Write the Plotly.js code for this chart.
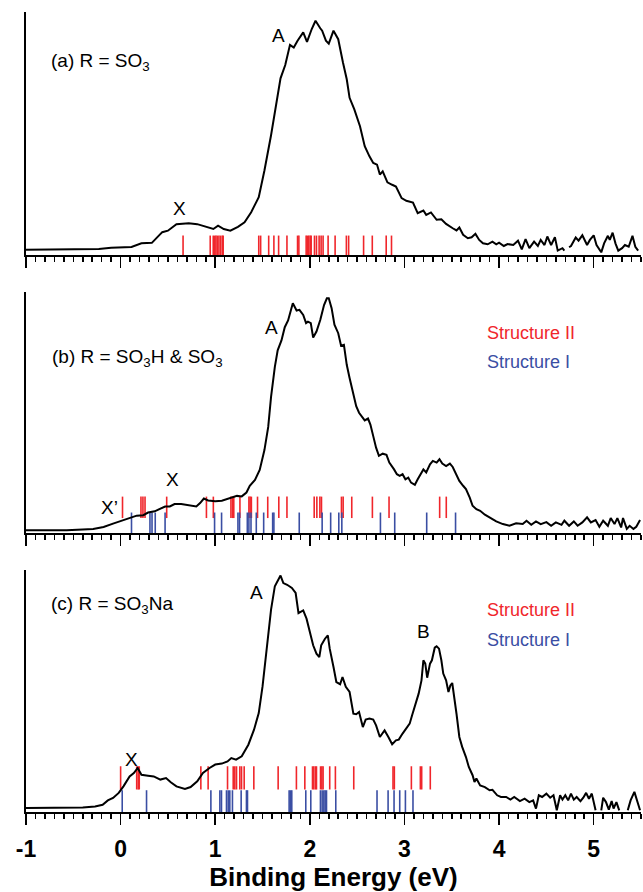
<!DOCTYPE html>
<html>
<head>
<meta charset="utf-8">
<script src="https://cdn.plot.ly/plotly-3.0.1.min.js"></script>
<style>html,body{margin:0;padding:0;background:#fff;}#chart{width:643px;height:892px;}</style>
</head>
<body>
<div id="chart"></div>
<script>
// ---------------- Data ----------------
// Panel (a) R = SO3 : photoelectron spectrum
const energyA = [-1.0,-0.62,-0.23,-0.10,0.115,0.22,0.33,0.44,0.50,0.59,
  0.72,0.81,0.89,0.98,1.03,1.09,1.16,1.24,1.31,1.38,
  1.46,1.52,1.59,1.64,1.69,1.74,1.79,1.83,1.87,1.93,
  1.97,2.02,2.06,2.11,2.13,2.17,2.20,2.25,2.30,2.35,
  2.39,2.42,2.47,2.53,2.58,2.63,2.67,2.71,2.74,2.77,
  2.82,2.87,2.91,2.97,3.02,3.09,3.14,3.20,3.23,3.28,
  3.34,3.39,3.44,3.51,3.55,3.58,3.62,3.67,3.71,3.75,
  3.79,3.83,3.88,3.93,3.97,4.00,4.05,4.09,4.15,4.20,
  4.24,4.28,4.32,4.37,4.41,4.44,4.48,4.51,4.55,4.59,
  4.62,4.67,4.69,4.715,4.74,4.76,4.81,4.84,4.88,4.93,
  4.96,5.00,5.03,5.08,5.11,5.15,5.17,5.20,5.23,5.26,
  5.30,5.33,5.37,5.41,5.44,5.47];
const intensityA = [2.2,2.2,2.5,3.0,3.3,4.8,5.0,9.4,10,12.7,
  13.1,12.7,11.8,10.7,12.1,10.7,10,11.6,13.5,17.6,
  23.8,34.8,49.3,60.3,72.7,78.2,86.5,85.4,88.2,91.6,
  87.7,93,96.4,93.3,92.3,88.2,87,92.3,88.8,79.2,
  72.3,64.7,59.9,53,44.8,40.6,37.9,37.2,33.1,34.4,
  29.9,28.9,28.2,23.4,22.3,21.6,17.2,18.3,16.5,17.5,
  14.5,14.7,12.8,11,10.1,11.3,8.3,6.9,7.3,8.7,
  6.2,4.8,4.4,5.5,4.4,5.1,3.7,4.5,4.1,5.9,
  2.3,6.5,2.8,5.5,3.7,6.2,4.1,7.6,4.1,7.3,
  1.8,2.8,1.8,null,3.2,3.7,7.2,5.9,8.1,4.1,
  6.2,8.1,4.1,1.1,4.8,7.9,6.2,9.2,4.8,1.8,
  2.8,4.1,3.4,7.9,3.4,1.8];

// Panel (b) R = SO3H & SO3
const energyB = [-1.0,-0.57,-0.29,-0.18,-0.08,-0.01,0.08,0.17,0.24,0.29,
  0.36,0.415,0.47,0.52,0.57,0.64,0.73,0.80,0.84,0.88,
  0.925,1.0,1.07,1.15,1.23,1.28,1.33,1.365,1.42,1.47,
  1.52,1.56,1.59,1.63,1.66,1.70,1.735,1.77,1.82,1.86,
  1.89,1.93,1.96,1.98,2.01,2.035,2.07,2.11,2.15,2.18,
  2.2,2.23,2.26,2.30,2.33,2.36,2.39,2.42,2.46,2.49,
  2.52,2.545,2.58,2.615,2.64,2.67,2.70,2.73,2.77,2.81,
  2.84,2.89,2.92,2.95,2.98,3.01,3.04,3.07,3.11,3.14,
  3.18,3.20,3.23,3.27,3.30,3.34,3.37,3.40,3.44,3.48,
  3.51,3.55,3.58,3.62,3.65,3.69,3.72,3.76,3.80,3.85,
  3.90,3.97,4.04,4.11,4.18,4.25,4.29,4.34,4.39,4.44,
  4.50,4.55,4.60,4.66,4.69,4.74,4.79,4.83,4.88,4.93,
  4.97,5.02,5.06,5.10,5.15,5.18,5.22,5.25,5.29,5.31,
  5.35,5.38,5.42,5.45,5.49];
const intensityB = [1.1,1.1,1.65,2.5,3.9,4.8,6.1,7.2,7.4,8.5,
  9.0,9.9,11,11,12,12,11.4,11,12.4,14.3,
  13.5,13.2,13.4,14.3,15.4,15.2,16.8,19.6,22,26.2,
  34.4,44,56.5,68.9,75.8,79.9,85.4,88.2,95.3,92.3,
  92.6,90.5,87.1,87.7,87.1,81.1,83.6,88.4,94.6,97.4,
  97.4,93.3,86.4,82.9,77.7,78.1,69.8,64.3,57.4,52.6,
  49.9,48.5,46.7,47.5,45,40.2,35.4,32,32.9,32.4,
  29.2,26.4,24.4,23.7,24.4,22.3,23,20.9,20,22.3,
  25.1,26.4,25.1,28.5,29.9,29.2,30.6,28.8,27.8,28.8,
  27.4,23.7,21.6,19.6,18.2,14.7,11.3,9.9,9.2,7.6,
  6.5,4.8,3.7,3.0,4.0,3.7,5.1,3.4,4.8,3.7,
  4.5,3.0,4.4,3.4,5.1,3.0,4.8,3.0,4.4,6.5,
  4.4,5.4,2.6,5.1,3.0,6.2,3.7,6.2,2.3,6.2,
  1.7,3.0,1.7,2.6,5.4];

// Panel (c) R = SO3Na
const energyC = [-1.0,-0.62,-0.40,-0.27,-0.19,-0.135,-0.08,-0.02,0.03,0.095,
  0.14,0.18,0.22,0.29,0.35,0.42,0.48,0.53,0.59,0.68,
  0.74,0.81,0.87,0.94,1.0,1.07,1.13,1.17,1.22,1.28,
  1.35,1.41,1.46,1.50,1.54,1.59,1.63,1.66,1.69,1.72,
  1.76,1.81,1.85,1.88,1.93,1.965,2.0,2.035,2.07,2.10,
  2.12,2.16,2.19,2.21,2.25,2.28,2.32,2.345,2.38,2.42,
  2.46,2.49,2.52,2.56,2.59,2.63,2.67,2.70,2.74,2.77,
  2.79,2.83,2.87,2.91,2.94,2.98,3.02,3.055,3.08,3.12,
  3.15,3.18,3.20,3.22,3.24,3.27,3.29,3.32,3.34,3.365,
  3.39,3.41,3.44,3.465,3.485,3.505,3.52,3.55,3.58,3.61,
  3.65,3.68,3.72,3.74,3.76,3.80,3.85,3.90,3.93,3.98,
  4.02,4.075,4.12,4.16,4.22,4.27,4.32,4.36,4.39,4.42,
  4.455,4.50,4.54,4.575,4.61,4.645,4.67,4.70,4.73,4.76,
  4.79,4.82,4.86,4.89,4.92,4.95,4.98,5.02,5.05,5.08,
  5.10,5.13,5.16,5.19,5.21,5.24,5.27,5.31,5.36,5.39,
  5.43,5.46,5.49];
const intensityC = [1.65,1.65,1.9,2.3,3.0,4.8,5.8,7.9,10.6,14.7,
  16.1,18.2,15.4,15,14.7,13.4,14,12.3,10.6,9.5,
  10.3,12.7,16.1,18.2,19.6,20,20.9,22.3,21.6,23,
  27.8,34,40.9,51.9,67.1,83.6,93.3,95.3,97.7,94.6,
  93.9,92.6,90.5,82.2,83.3,79.9,74.4,68.9,65.4,64,
  68.9,71.6,73,67.5,59.9,53.7,52.8,55.8,51.7,49.6,
  40.6,40.4,41.3,35.1,38.2,38.6,38.2,35.8,31,32.6,
  33.7,31,28,29.6,29.9,32.4,34.4,36.5,39.9,44.8,
  48.9,54.4,62.7,61.3,55.5,61.3,62.7,67.9,68.5,67.5,
  62.7,57.2,54.4,49.6,52.3,53.3,49.6,40.6,31,26.9,
  22.7,18.6,15.2,12.4,13.8,11,10.3,9,9.2,6.9,
  6.2,6.2,5.1,6.2,4.5,5.5,4.1,4.8,1.4,6.9,
  6.2,7.6,5.9,6.9,0.7,6.9,5.1,6.9,4.8,7.6,
  5.1,6.2,4.5,5.9,7.9,5.5,7.6,0.7,null,0.7,
  5.9,4.1,1.0,4.5,1.4,4.1,0.7,null,0.7,4.8,
  8.3,4.8,0.7];

// Calculated binding energies (stick spectra)
const sticksA_II = [0.66,0.947,0.979,0.993,1.007,1.021,1.039,1.056,1.074,1.084,
  1.46,1.48,1.565,1.62,1.67,1.758,1.87,1.884,1.961,1.975,1.989,2.004,2.014,2.049,
  2.07,2.098,2.119,2.14,2.193,2.267,2.386,2.41,2.568,2.66,2.807,2.863];
const sticksB_II = [0.02,0.215,0.236,0.258,0.487,0.907,0.98,1.166,1.183,1.196,1.261,
  1.356,1.369,1.382,1.447,1.555,1.672,1.758,2.046,2.074,2.106,2.123,2.334,2.352,
  2.443,2.661,2.837,3.372,3.442];
const sticksB_I = [0.115,0.31,0.332,0.366,0.47,0.993,1.067,1.24,1.257,1.339,1.356,
  1.378,1.434,1.512,1.607,1.62,1.888,2.13,2.22,2.306,2.338,2.746,2.897,3.235,3.54];
const sticksC_II = [0.0,0.17,0.186,0.197,0.848,0.925,1.13,1.19,1.207,1.225,1.26,1.278,
  1.306,1.408,1.665,1.858,1.947,2.028,2.042,2.06,2.07,2.113,2.127,2.14,2.21,2.27,
  2.464,2.879,2.893,3.073,3.168,3.182,3.273];
const sticksC_I = [0.017,0.274,0.954,1.049,1.066,1.119,1.137,1.154,1.182,1.274,1.33,
  1.341,1.781,1.795,1.809,1.957,2.01,2.112,2.13,2.148,2.162,2.176,2.274,2.71,2.827,
  2.89,2.95,3.01,3.09];

const tickValues = [-1, 0, 1, 2, 3, 4, 5];
const tickLabels = ['-1', '0', '1', '2', '3', '4', '5'];

// ---------------- Styling ----------------
const FONT = 'Liberation Sans, Arial, Helvetica, sans-serif';
const RED = '#f0262b';
const BLUE = '#3a4ea3';

function sticks(energies, lo, hi, color, xa, ya) {
  const xs = [], ys = [];
  energies.forEach(e => { xs.push(e, e, null); ys.push(lo, hi, null); });
  return {x: xs, y: ys, xaxis: xa, yaxis: ya, mode: 'lines', type: 'scatter',
    line: {color: color, width: 1.6}, hoverinfo: 'skip', showlegend: false, connectgaps: false};
}
function spectrum(xs, ys, xa, ya) {
  return {x: xs, y: ys, xaxis: xa, yaxis: ya, mode: 'lines', type: 'scatter',
    line: {color: '#000', width: 2}, connectgaps: false, showlegend: false, hoverinfo: 'skip'};
}

const traces = [
  sticks(sticksA_II, 0, 8, RED, 'x', 'y'),
  spectrum(energyA, intensityA, 'x', 'y'),
  sticks(sticksB_II, 6.2, 15.1, RED, 'x2', 'y2'),
  sticks(sticksB_I, 0, 8.5, BLUE, 'x2', 'y2'),
  spectrum(energyB, intensityB, 'x2', 'y2'),
  sticks(sticksC_II, 9.3, 18.9, RED, 'x3', 'y3'),
  sticks(sticksC_I, 0, 9, BLUE, 'x3', 'y3'),
  spectrum(energyC, intensityC, 'x3', 'y3')
];

const XRANGE = [-1, 5.5];
function mainX(anchor, showLabels) {
  const ax = {
    anchor: anchor, domain: [0, 1], range: XRANGE, autorange: false,
    showline: true, linecolor: '#000', linewidth: 2,
    ticks: 'outside', ticklen: 11, tickwidth: 1.6, tickcolor: '#000',
    tickmode: 'array', tickvals: tickValues, ticktext: tickLabels,
    showticklabels: showLabels, showgrid: false, zeroline: false,
    tickfont: {family: FONT, size: 23, color: '#000', weight: 'bold'},
    ticklabelstandoff: 4,
    minor: {tickmode: 'linear', tick0: -1, dtick: 0.1, ticks: 'outside', ticklen: 5,
            tickwidth: 1.6, tickcolor: '#000', showgrid: false}
  };
  return ax;
}
function halfX(over, anchor) {
  return {overlaying: over, anchor: anchor, side: 'bottom', range: XRANGE, autorange: false,
    tickmode: 'linear', tick0: -0.5, dtick: 1, ticks: 'outside', ticklen: 8, tickwidth: 1.6,
    tickcolor: '#000', showticklabels: false, showline: false, showgrid: false, zeroline: false};
}
function yax(domain, anchor) {
  return {domain: domain, anchor: anchor, range: [0, 100], autorange: false,
    showline: true, linecolor: '#000', linewidth: 2, ticks: '', showticklabels: false,
    showgrid: false, zeroline: false};
}

const xa3 = mainX('y3', true);
xa3.title = {text: 'Binding Energy (eV)', font: {family: FONT, size: 26, color: '#000', weight: 'bold'}, standoff: 2};

const labFont = {family: FONT, size: 19, color: '#000'};
function ann(text, x, y, xref, yref, opts) {
  return Object.assign({text: text, x: x, y: y, xref: xref, yref: yref, showarrow: false,
    xanchor: 'center', yanchor: 'middle', font: labFont}, opts || {});
}
const annotations = [
  ann('(a) R = SO<sub>3</sub>', -0.757, 79.3, 'x', 'y', {xanchor: 'left'}),
  ann('A', 1.672, 90.5, 'x', 'y'),
  ann('X', 0.626, 19, 'x', 'y'),
  ann('(b) R = SO<sub>3</sub>H &amp; SO<sub>3</sub>', -0.747, 72.7, 'x2', 'y2', {xanchor: 'left'}),
  ann('A', 1.593, 85.1, 'x2', 'y2'),
  ann('X', 0.552, 22.3, 'x2', 'y2'),
  ann('X\u2019', -0.113, 10.7, 'x2', 'y2'),
  ann('Structure II', 3.847, 83, 'x2', 'y2', {xanchor: 'left', font: {family: FONT, size: 18, color: RED}}),
  ann('Structure I', 3.847, 71, 'x2', 'y2', {xanchor: 'left', font: {family: FONT, size: 18, color: BLUE}}),
  ann('(c) R = SO<sub>3</sub>Na', -0.757, 85.5, 'x3', 'y3', {xanchor: 'left'}),
  ann('A', 1.44, 90.9, 'x3', 'y3'),
  ann('X', 0.119, 21.9, 'x3', 'y3'),
  ann('B', 3.203, 74.4, 'x3', 'y3'),
  ann('Structure II', 3.847, 83.5, 'x3', 'y3', {xanchor: 'left', font: {family: FONT, size: 18, color: RED}}),
  ann('Structure I', 3.847, 71, 'x3', 'y3', {xanchor: 'left', font: {family: FONT, size: 18, color: BLUE}})
];

const layout = {
  width: 643, height: 892,
  margin: {l: 26, r: 2, t: 12, b: 80, pad: 0},
  paper_bgcolor: '#fff', plot_bgcolor: '#fff',
  font: {family: FONT, color: '#000'},
  showlegend: false,
  xaxis: mainX('y', false),
  xaxis2: mainX('y2', false),
  xaxis3: xa3,
  xaxis4: halfX('x', 'y'),
  xaxis5: halfX('x2', 'y2'),
  xaxis6: halfX('x3', 'y3'),
  yaxis: yax([0.69625, 1], 'x'),
  yaxis2: yax([0.34875, 0.65], 'x2'),
  yaxis3: yax([0, 0.3025], 'x3'),
  annotations: annotations
};

Plotly.newPlot('chart', traces, layout, {staticPlot: true, displayModeBar: false});
</script>
</body>
</html>
